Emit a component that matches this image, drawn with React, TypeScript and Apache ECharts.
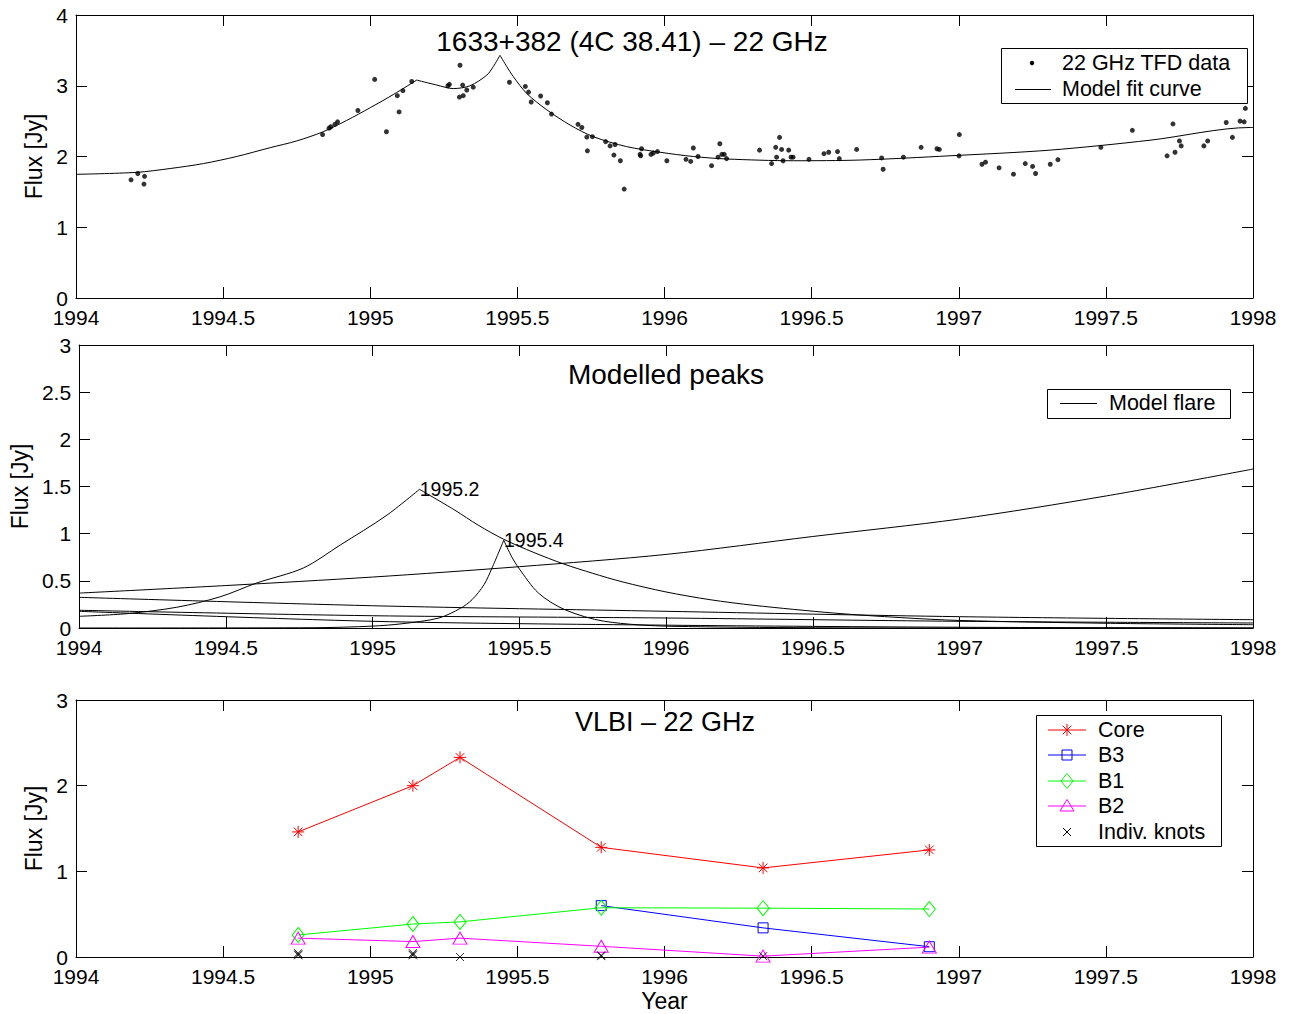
import React, { useEffect, useRef } from "react";
import * as echarts from "echarts";

// ---------- Panel 1: 22 GHz TFD single-dish data ----------
const tfdYears = [
  1994.187, 1994.21, 1994.233, 1994.231, 1994.838, 1994.86, 1994.866, 1994.88, 1994.889, 1994.958,
  1995.015, 1995.055, 1995.092, 1995.098, 1995.111, 1995.141, 1995.264, 1995.269, 1995.303, 1995.305,
  1995.314, 1995.316, 1995.328, 1995.35, 1995.473, 1995.527, 1995.538, 1995.547, 1995.579, 1995.602,
  1995.616, 1995.706, 1995.719, 1995.736, 1995.738, 1995.755, 1995.8, 1995.815, 1995.828, 1995.832,
  1995.85, 1995.863, 1995.917, 1995.919, 1995.922, 1995.954, 1995.962, 1995.976, 1996.008, 1996.073,
  1996.089, 1996.098, 1996.114, 1996.16, 1996.182, 1996.188, 1996.195, 1996.203, 1996.211, 1996.323,
  1996.364, 1996.378, 1996.381, 1996.391, 1996.398, 1996.403, 1996.422, 1996.43, 1996.437, 1996.491,
  1996.542, 1996.558, 1996.588, 1996.594, 1996.653, 1996.738, 1996.743, 1996.812, 1996.872, 1996.926,
  1996.934, 1997.001, 1997.002, 1997.079, 1997.091, 1997.137, 1997.186, 1997.226, 1997.251, 1997.261,
  1997.311, 1997.337, 1997.483, 1997.59, 1997.708, 1997.728, 1997.735, 1997.75, 1997.756, 1997.833,
  1997.846, 1997.909, 1997.93, 1997.956, 1997.97, 1997.974,
];
const tfdFlux = [
  1.67, 1.76, 1.72, 1.61, 2.31, 2.4, 2.42, 2.455, 2.49, 2.65,
  3.09, 2.35, 2.86, 2.63, 2.93, 3.06, 3.0, 3.02, 2.84, 3.29,
  3.01, 2.86, 2.94, 2.98, 3.05, 2.99, 2.91, 2.77, 2.855, 2.76,
  2.6, 2.455, 2.41, 2.275, 2.08, 2.28, 2.21, 2.15, 2.02, 2.17,
  1.94, 1.54, 2.03, 2.01, 2.11, 2.03, 2.05, 2.07, 1.94, 1.96,
  1.93, 2.12, 2.0, 1.87, 1.99, 2.18, 2.03, 2.03, 1.97, 2.09,
  1.9, 2.13, 1.99, 2.27, 2.1, 1.94, 2.09, 1.99, 1.99, 1.96,
  2.04, 2.06, 2.07, 1.97, 2.1, 1.98, 1.82, 1.99, 2.13, 2.11,
  2.1, 2.01, 2.31, 1.89, 1.92, 1.84, 1.75, 1.9, 1.86, 1.76,
  1.89, 1.955, 2.13, 2.37, 2.01, 2.46, 2.06, 2.22, 2.15, 2.15,
  2.22, 2.48, 2.27, 2.5, 2.49, 2.68,
];

// model fit curve, read in three pieces (rise, between peaks, decay)
const fitRiseYears = [1994.0, 1994.206, 1994.32, 1994.433, 1994.546, 1994.66, 1994.75, 1994.84, 1994.92, 1995.0, 1995.08, 1995.158];
const fitRiseFlux = [1.748, 1.776, 1.83, 1.9, 2.0, 2.125, 2.22, 2.35, 2.51, 2.69, 2.88, 3.08];
const fitMidYears = [1995.158, 1995.226, 1995.282, 1995.339, 1995.396, 1995.418, 1995.441];
const fitMidFlux = [3.08, 3.01, 2.96, 3.0, 3.15, 3.27, 3.43];
const fitDecayYears = [1995.441, 1995.464, 1995.486, 1995.532, 1995.6, 1995.679, 1995.758, 1995.871, 1995.985, 1996.098, 1996.211, 1996.438, 1996.664, 1996.97, 1997.31, 1997.65, 1997.99, 1998.0];
const fitDecayFlux = [3.43, 3.27, 3.13, 2.89, 2.66, 2.445, 2.28, 2.14, 2.06, 2.0, 1.965, 1.94, 1.95, 2.01, 2.09, 2.23, 2.41, 2.41];

// ---------- Panel 2: modelled flares ----------
const baseYears = [1994, 1994.5, 1995, 1995.5, 1996, 1996.5, 1997, 1997.5, 1998];
const baseFlux = [0.37, 0.45, 0.54, 0.65, 0.78, 0.97, 1.155, 1.4, 1.685];
const flare1RiseYears = [1994.0, 1994.163, 1994.333, 1994.48, 1994.605, 1994.764, 1994.89, 1995.046, 1995.16];
const flare1RiseFlux = [0.124, 0.152, 0.22, 0.33, 0.477, 0.636, 0.88, 1.19, 1.47];
const flare1DecayYears = [1995.16, 1995.28, 1995.36, 1995.447, 1995.55, 1995.65, 1995.75, 1995.85, 1996.0, 1996.15, 1996.3, 1996.57, 1996.8, 1997.0, 1997.5, 1998.0];
const flare1DecayFlux = [1.47, 1.25, 1.09, 0.94, 0.8, 0.68, 0.58, 0.49, 0.382, 0.3, 0.24, 0.159, 0.11, 0.08, 0.05, 0.035];
const flare2RiseYears = [1994.0, 1994.8, 1995.0, 1995.1, 1995.226, 1995.3, 1995.339, 1995.38, 1995.407, 1995.447];
const flare2RiseFlux = [0.0, 0.003, 0.02, 0.045, 0.106, 0.21, 0.3, 0.46, 0.636, 0.93];
const flare2DecayYears = [1995.447, 1995.475, 1995.498, 1995.565, 1995.655, 1995.79, 1996.02, 1997.0, 1998.0];
const flare2DecayFlux = [0.93, 0.75, 0.636, 0.371, 0.194, 0.071, 0.018, 0.0, 0.0];
const slowYears = [1994, 1995, 1996, 1997, 1998];
const slowAFlux = [0.325, 0.236, 0.177, 0.12, 0.088];
const slowBFlux = [0.188, 0.13, 0.106, 0.071, 0.053];
const slowCFlux = [0.177, 0.071, 0.03, 0.008, 0.0];
const peakYears = [1995.16, 1995.447];
const peakFlux = [1.47, 0.93];
const peakLabels = ["1995.2", "1995.4"];

// ---------- Panel 3: VLBI components ----------
const epochs = [1994.755, 1995.145, 1995.305, 1995.785, 1996.335, 1996.9];
const coreFlux = [1.46, 2.0, 2.33, 1.28, 1.04, 1.25];
const b3Flux = [null, null, null, 0.6, 0.34, 0.12];
const b1Flux = [0.257, 0.385, 0.41, 0.575, 0.57, 0.56];
const b2Flux = [0.22, 0.18, 0.22, 0.125, 0.01, 0.115];
const knotYears = [1994.755, 1994.755, 1994.755, 1995.145, 1995.145, 1995.145, 1995.305, 1995.785, 1995.785, 1996.335];
const knotFlux = [0.02, 0.03, 0.045, 0.02, 0.03, 0.045, 0.0, 0.01, 0.02, 0.01];

const xTickStep = 0.5;

const FONT = "Liberation Sans, Arial, Helvetica, sans-serif";

const pair = (xs: number[], ys: (number | null)[]) =>
  xs.map((x, i) => [x, ys[i]]).filter((p) => p[1] !== null);

const SYM_ASTERISK = "path://M0,-1L0,1M-1,0L1,0M-0.72,-0.72L0.72,0.72M-0.72,0.72L0.72,-0.72";
const SYM_SQUARE = "path://M-1,-1L1,-1L1,1L-1,1Z";
const SYM_DIAMOND = "path://M0,-1L1,0L0,1L-1,0Z";
const SYM_TRIANGLE = "path://M0,-1L1,0.732L-1,0.732Z";
const SYM_X = "path://M-1,-1L1,1M-1,1L1,-1";

const plainNum = (v: number) => String(Math.round(v * 1000) / 1000);

export default function App() {
  const ref = useRef<HTMLDivElement>(null);

  useEffect(() => {
    if (!ref.current) return;
    const chart = echarts.init(ref.current, null, { renderer: "svg" });

    const grids = [
      { left: 76, top: 15, width: 1177, height: 283 },
      { left: 76, top: 345, width: 1177, height: 283 },
      { left: 76, top: 700, width: 1177, height: 257 },
    ];
    const yRanges = [
      { max: 4, interval: 1, gap: 20 },
      { max: 3, interval: 0.5, gap: 42 },
      { max: 3, interval: 1, gap: 20 },
    ];
    const axisLine = { show: true, onZero: false, lineStyle: { color: "#000", width: 1 } };
    const tick = { show: true, inside: true, length: 11, lineStyle: { color: "#000", width: 1 } };
    const labelStyle = { color: "#000", fontSize: 21, fontFamily: FONT };

    const xAxis: any[] = [];
    const yAxis: any[] = [];
    grids.forEach((_, i) => {
      xAxis.push({
        type: "value", gridIndex: i, min: 1994, max: 1998, interval: xTickStep, position: "bottom",
        axisLine, axisTick: tick, splitLine: { show: false },
        axisLabel: { ...labelStyle, margin: 9, showMinLabel: true, showMaxLabel: true, formatter: plainNum },
        name: i === 2 ? "Year" : "", nameLocation: "middle", nameGap: 32,
        nameTextStyle: { color: "#000", fontSize: 23, fontFamily: FONT },
      });
    });
    grids.forEach((_, i) => {
      xAxis.push({
        type: "value", gridIndex: i, min: 1994, max: 1998, interval: xTickStep, position: "top",
        axisLine, axisTick: tick, splitLine: { show: false }, axisLabel: { show: false },
      });
    });
    grids.forEach((_, i) => {
      yAxis.push({
        type: "value", gridIndex: i, min: 0, max: yRanges[i].max, interval: yRanges[i].interval, position: "left",
        axisLine, axisTick: tick, splitLine: { show: false },
        axisLabel: { ...labelStyle, margin: 8, formatter: plainNum },
        name: "Flux [Jy]", nameLocation: "middle", nameGap: yRanges[i].gap,
        nameTextStyle: { color: "#000", fontSize: 23, fontFamily: FONT },
      });
    });
    grids.forEach((_, i) => {
      yAxis.push({
        type: "value", gridIndex: i, min: 0, max: yRanges[i].max, interval: yRanges[i].interval, position: "right",
        axisLine, axisTick: tick, splitLine: { show: false }, axisLabel: { show: false },
      });
    });

    const blackLine = (name: string, g: number, xs: number[], ys: number[], smooth = 0.3) => ({
      type: "line", name, xAxisIndex: g, yAxisIndex: g, data: pair(xs, ys),
      showSymbol: false, symbol: "none", smooth,
      lineStyle: { color: "#000", width: 1 }, clip: true, z: 3,
    });

    const compLine = (name: string, ys: (number | null)[], color: string, symbol: string, size: any) => ({
      type: "line", name, xAxisIndex: 2, yAxisIndex: 2, data: pair(epochs, ys),
      symbol, symbolSize: size, showSymbol: true, clip: false,
      lineStyle: { color, width: 1 },
      itemStyle: { color: "rgba(0,0,0,0)", borderColor: color, borderWidth: 1 },
      z: 3,
    });

    const series: any[] = [
      {
        type: "scatter", name: "22 GHz TFD data", xAxisIndex: 0, yAxisIndex: 0,
        data: pair(tfdYears, tfdFlux), symbol: "circle", symbolSize: 5,
        itemStyle: { color: "#000" }, z: 4,
      },
      blackLine("Model fit curve", 0, fitRiseYears, fitRiseFlux),
      blackLine("Model fit curve", 0, fitMidYears, fitMidFlux),
      blackLine("Model fit curve", 0, fitDecayYears, fitDecayFlux),
      blackLine("Model flare", 1, baseYears, baseFlux),
      blackLine("Model flare", 1, flare1RiseYears, flare1RiseFlux),
      blackLine("Model flare", 1, flare1DecayYears, flare1DecayFlux),
      blackLine("Model flare", 1, flare2RiseYears, flare2RiseFlux),
      blackLine("Model flare", 1, flare2DecayYears, flare2DecayFlux),
      blackLine("Model flare", 1, slowYears, slowAFlux),
      blackLine("Model flare", 1, slowYears, slowBFlux),
      blackLine("Model flare", 1, slowYears, slowCFlux),
      {
        type: "scatter", name: "peaks", xAxisIndex: 1, yAxisIndex: 1,
        data: peakYears.map((x, i) => ({ value: [x, peakFlux[i]], name: peakLabels[i] })),
        symbol: "circle", symbolSize: 0.5, itemStyle: { color: "#000", opacity: 1 },
        label: {
          show: true, position: "right", distance: 0, formatter: "{b}",
          color: "#000", opacity: 1, fontSize: 19.5, fontFamily: FONT,
        },
        z: 5,
      },
      compLine("Core", coreFlux, "#ff0000", SYM_ASTERISK, 12),
      compLine("B3", b3Flux, "#0000ff", SYM_SQUARE, 10),
      compLine("B1", b1Flux, "#00ff00", SYM_DIAMOND, [12, 15]),
      compLine("B2", b2Flux, "#ff00ff", SYM_TRIANGLE, [14, 12]),
      {
        type: "scatter", name: "Indiv. knots", xAxisIndex: 2, yAxisIndex: 2,
        data: pair(knotYears, knotFlux), symbol: SYM_X, symbolSize: 8, clip: false,
        itemStyle: { color: "rgba(0,0,0,0)", borderColor: "#000", borderWidth: 1 }, z: 4,
      },
    ];

    const txt = (text: string, x: number, y: number, size: number, align = "left") => ({
      type: "text", z: 100,
      style: { text, x, y, align, verticalAlign: "middle", fontSize: size, fontFamily: FONT, fill: "#000" },
    });
    const seg = (x1: number, y1: number, x2: number, y2: number, color: string) => ({
      type: "line", z: 100, shape: { x1, y1, x2, y2 }, style: { stroke: color, lineWidth: 1 },
    });
    const box = (x: number, y: number, width: number, height: number) => ({
      type: "rect", z: 99, shape: { x, y, width, height }, style: { fill: "#fff", stroke: "#000", lineWidth: 1 },
    });
    const poly = (points: number[][], color: string) => ({
      type: "polygon", z: 101, shape: { points }, style: { fill: "none", stroke: color, lineWidth: 1 },
    });

    const lx = 1067; // bottom legend marker centre
    const rows = [730, 755, 781, 806, 832];
    const LF = 21.5;

    const graphic: any[] = [
      txt("1633+382 (4C 38.41) \u2013 22 GHz", 632, 41, 28, "center"),
      txt("Modelled peaks", 666, 374, 28, "center"),
      txt("VLBI \u2013 22 GHz", 665, 722, 27, "center"),
      // legend panel 1
      box(1001.5, 48.5, 246, 55),
      { type: "circle", z: 100, shape: { cx: 1032, cy: 63, r: 2.2 }, style: { fill: "#000" } },
      txt("22 GHz TFD data", 1062, 63, LF),
      seg(1015, 89.5, 1051, 89.5, "#000"),
      txt("Model fit curve", 1062, 89, LF),
      // legend panel 2
      box(1047.5, 389.5, 183, 29),
      seg(1060, 403.5, 1097, 403.5, "#000"),
      txt("Model flare", 1109, 403, LF),
      // legend panel 3
      box(1036.5, 715.5, 185, 131),
      seg(1048, rows[0], 1086, rows[0], "#ff0000"),
      seg(lx, rows[0] - 6, lx, rows[0] + 6, "#ff0000"),
      seg(lx - 4.3, rows[0] - 4.3, lx + 4.3, rows[0] + 4.3, "#ff0000"),
      seg(lx - 4.3, rows[0] + 4.3, lx + 4.3, rows[0] - 4.3, "#ff0000"),
      txt("Core", 1098, rows[0], LF),
      seg(1048, rows[1], 1086, rows[1], "#0000ff"),
      { type: "rect", z: 101, shape: { x: lx - 5, y: rows[1] - 5, width: 10, height: 10 }, style: { fill: "none", stroke: "#0000ff", lineWidth: 1 } },
      txt("B3", 1098, rows[1], LF),
      seg(1048, rows[2], 1086, rows[2], "#00ff00"),
      poly([[lx, rows[2] - 7.5], [lx + 6, rows[2]], [lx, rows[2] + 7.5], [lx - 6, rows[2]]], "#00ff00"),
      txt("B1", 1098, rows[2], LF),
      seg(1048, rows[3], 1086, rows[3], "#ff00ff"),
      poly([[lx, rows[3] - 6.5], [lx + 7, rows[3] + 5], [lx - 7, rows[3] + 5]], "#ff00ff"),
      txt("B2", 1098, rows[3], LF),
      seg(lx - 4, rows[4] - 4, lx + 4, rows[4] + 4, "#000"),
      seg(lx - 4, rows[4] + 4, lx + 4, rows[4] - 4, "#000"),
      txt("Indiv. knots", 1098, rows[4], LF),
    ];

    chart.setOption({
      animation: false,
      backgroundColor: "#fff",
      textStyle: { fontFamily: FONT },
      grid: grids,
      xAxis,
      yAxis,
      series,
      graphic,
    });

    return () => chart.dispose();
  }, []);

  return (
    <div
      ref={ref}
      style={{ position: "fixed", left: 0, top: 0, width: 1292, height: 1014, background: "#fff" }}
    />
  );
}
